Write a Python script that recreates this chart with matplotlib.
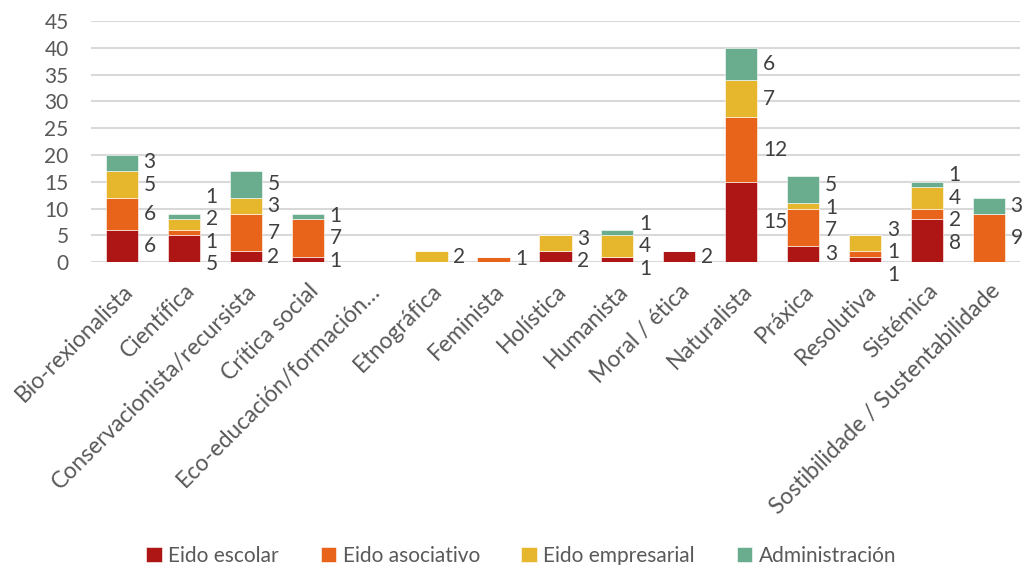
import matplotlib
matplotlib.use("Agg")
import matplotlib.pyplot as plt
import numpy as np

categories = [
    "Bio-rexionalista", "Científica", "Conservacionista/recursista", "Crítica social",
    "Eco-educación/formación…", "Etnográfica", "Feminista", "Holística", "Humanista",
    "Moral / ética", "Naturalista", "Práxica", "Resolutiva", "Sistémica",
    "Sostibilidade / Sustentabilidade",
]
series_names = ["Eido escolar", "Eido asociativo", "Eido empresarial", "Administración"]
eido_escolar = [6, 5, 2, 1, 0, 0, 0, 2, 1, 2, 15, 3, 1, 8, 0]
eido_asociativo = [6, 1, 7, 7, 0, 0, 1, 0, 0, 0, 12, 7, 1, 2, 9]
eido_empresarial = [5, 2, 3, 0, 0, 2, 0, 3, 4, 0, 7, 1, 3, 4, 0]
administracion = [3, 1, 5, 1, 0, 0, 0, 0, 1, 0, 6, 5, 0, 1, 3]
y_ticks = [0, 5, 10, 15, 20, 25, 30, 35, 40, 45]

colors = ["#AE1616", "#E8641A", "#E6B72C", "#69AD8E"]
series = [eido_escolar, eido_asociativo, eido_empresarial, administracion]

plt.rcParams["font.family"] = ["Lato", "DejaVu Sans"]
fig = plt.figure(figsize=(10.22, 5.65), dpi=100)
ax = fig.add_axes([0.089, 0.536, 0.909, 0.427])

x = np.arange(len(categories))
width = 0.52
bottom = np.zeros(len(categories))
for name, vals, col in zip(series_names, series, colors):
    v = np.array(vals, dtype=float)
    ax.bar(x, v, width, bottom=bottom, color=col, label=name,
           edgecolor="#ffffff", linewidth=0.4, zorder=3)
    bottom += v


def spread(centers, gap):
    # group overlapping labels into clusters centred on their mean
    clusters = [[c] for c in centers]
    changed = True
    while changed:
        changed = False
        pos = []
        for cl in clusters:
            m = np.mean(cl)
            n = len(cl)
            pos.append([m + (k - (n - 1) / 2) * gap for k in range(n)])
        for i in range(len(clusters) - 1):
            if pos[i + 1][0] - pos[i][-1] < gap - 1e-9:
                clusters[i] = clusters[i] + clusters[i + 1]
                del clusters[i + 1]
                changed = True
                break
    out = []
    for cl in clusters:
        m = np.mean(cl)
        n = len(cl)
        out += [m + (k - (n - 1) / 2) * gap for k in range(n)]
    return out


for i in range(len(categories)):
    base = 0.0
    centers, texts = [], []
    for vals in series:
        v = vals[i]
        if v > 0:
            centers.append(base + v / 2)
            texts.append(str(v))
        base += v
    if not centers:
        continue
    ys = spread(centers, 4.2)
    for yv, t in zip(ys, texts):
        ax.annotate(t, xy=(x[i] + width / 2, yv), xytext=(4, 0),
                    textcoords="offset points", ha="left", va="center",
                    fontsize=15, color="#404040", annotation_clip=False)

ax.set_xlim(-0.5, len(categories) - 0.5)
ax.set_ylim(0, 45)
ax.set_yticks(y_ticks)
ax.grid(axis="y", color="#D9D9D9", linewidth=1.5, zorder=0)
ax.set_axisbelow(True)
for s in ax.spines.values():
    s.set_visible(False)
ax.tick_params(axis="both", length=0, labelsize=15, colors="#595959")
ax.tick_params(axis="y", pad=16)
ax.set_xticks(x)
ax.set_xticklabels(categories, rotation=45, ha="right", rotation_mode="anchor",
                   fontsize=16.5, color="#595959")
ax.tick_params(axis="x", pad=13)

leg = fig.legend(loc="lower center", bbox_to_anchor=(0.51, -0.035), ncol=4,
                 frameon=False, fontsize=15, handlelength=0.75, handleheight=0.75,
                 handletextpad=0.3, columnspacing=2.0)
for t in leg.get_texts():
    t.set_color("#595959")

fig.savefig("out.png", dpi=100)
